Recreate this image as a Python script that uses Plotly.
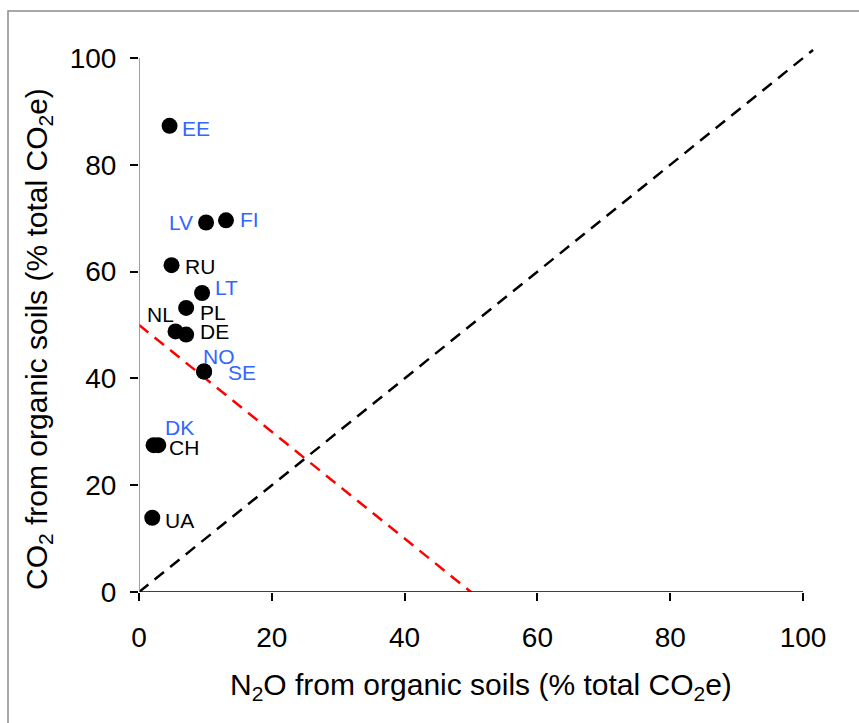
import plotly.graph_objects as go

# Share of organic-soil emissions by country (% of total CO2e)
countries = ["EE", "LV", "FI", "RU", "LT", "PL", "NL", "DE", "NO", "SE", "DK", "CH", "UA"]
n2o_share = [4.6, 10.1, 13.1, 4.9, 9.5, 7.1, 5.5, 7.1, 9.8, 9.8, 2.2, 2.9, 2.0]
co2_share = [87.3, 69.2, 69.6, 61.2, 56.0, 53.2, 48.8, 48.2, 41.3, 41.3, 27.5, 27.5, 13.9]
highlighted = ["EE", "LV", "FI", "LT", "NO", "SE", "DK"]

# Reference lines: 1:1 line and the 50 % total line
one_to_one = ([0, 101.5], [0, 101.5])
half_line = ([0, 50], [50, 0])

tick_vals = [0, 20, 40, 60, 80, 100]

# label placement: (anchor, x offset px, y offset px)
label_offsets = {
    "EE": ("left", 10, -3), "LV": ("right", -11, 0), "FI": ("left", 12, 1),
    "RU": ("left", 11, -1), "LT": ("left", 11, 5), "PL": ("left", 12, -5),
    "NL": ("right", 0, 17), "DE": ("left", 12, 3), "NO": ("left", -3, 15),
    "SE": ("left", 22, -1), "DK": ("left", 9, 18), "CH": ("left", 9, -2),
    "UA": ("left", 11, -3),
}

FONT = "Liberation Sans, Arial, sans-serif"
BLUE = "#3366FF"

fig = go.Figure()

fig.add_trace(go.Scatter(
    x=one_to_one[0], y=one_to_one[1], mode="lines",
    line=dict(color="black", width=2.5, dash="12px,8px"),
    hoverinfo="skip", showlegend=False,
))
fig.add_trace(go.Scatter(
    x=half_line[0], y=half_line[1], mode="lines",
    line=dict(color="#FF0000", width=2.5, dash="12px,8px"),
    hoverinfo="skip", showlegend=False,
))
fig.add_trace(go.Scatter(
    x=n2o_share, y=co2_share, mode="markers",
    marker=dict(color="black", size=16, line=dict(width=0)),
    text=countries, showlegend=False, cliponaxis=False,
))

for name, xv, yv in zip(countries, n2o_share, co2_share):
    anchor, dx, dy = label_offsets[name]
    fig.add_annotation(
        x=xv, y=yv, text=name, showarrow=False,
        xanchor=anchor, yanchor="middle", xshift=dx, yshift=dy,
        font=dict(family=FONT, size=21, color=BLUE if name in highlighted else "black"),
    )

# Axis lines drawn only over the 0-100 span
fig.add_shape(type="line", xref="x", yref="y", x0=0, y0=0, x1=100, y1=0,
              line=dict(color="black", width=1.5))
fig.add_shape(type="line", xref="x", yref="y", x0=0, y0=0, x1=0, y1=100,
              line=dict(color="#808080", width=1.5))

# Outer frame
fig.add_shape(type="rect", xref="paper", yref="paper",
              x0=(8 - 139) / 684, y0=-0.3, x1=1.2, y1=(592 - 11) / 550,
              line=dict(color="#8C8C8C", width=1.5), fillcolor="rgba(0,0,0,0)")

# Axis titles
fig.add_annotation(
    xref="paper", yref="paper", x=(481 - 139) / 684, y=(592 - 686) / 550,
    text="N<sub>2</sub>O from organic soils (% total CO<sub>2</sub>e)",
    showarrow=False, xanchor="center", yanchor="middle",
    font=dict(family=FONT, size=30, color="black"),
)
fig.add_annotation(
    xref="paper", yref="paper", x=(38 - 139) / 684, y=(592 - 339) / 550,
    text="CO<sub>2</sub> from organic soils (% total CO<sub>2</sub>e)",
    showarrow=False, xanchor="center", yanchor="middle", textangle=-90,
    font=dict(family=FONT, size=30, color="black"),
)

axis_common = dict(
    range=[0, 103], tickvals=tick_vals, ticks="outside", ticklen=8,
    tickwidth=1.5, tickcolor="black", showgrid=False, zeroline=False,
    showline=False, tickfont=dict(family=FONT, size=28, color="black"),
    fixedrange=True,
)

fig.update_xaxes(**axis_common, ticklabelstandoff=12)
fig.update_yaxes(**axis_common, ticklabelstandoff=8)

fig.update_layout(
    width=859, height=723,
    margin=dict(l=139, r=36, t=42, b=131),
    paper_bgcolor="white", plot_bgcolor="white",
    showlegend=False,
)

fig.write_html("out.html")
